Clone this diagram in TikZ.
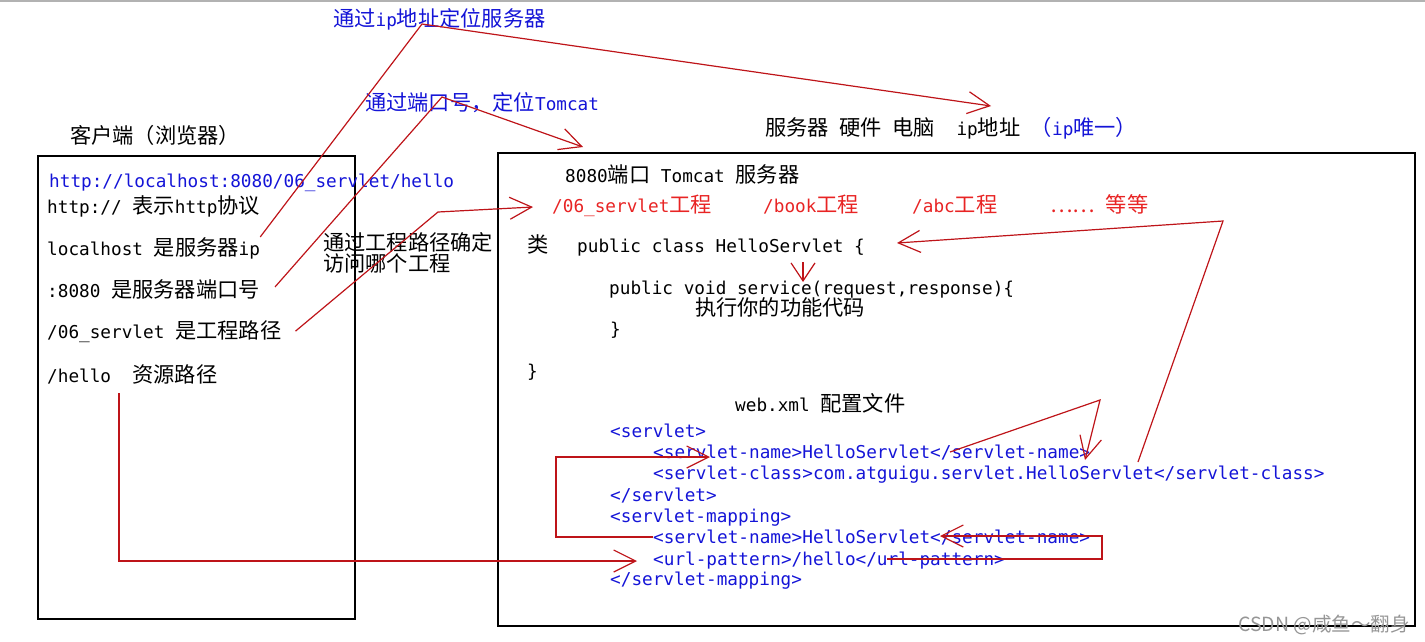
\documentclass[tikz,border=0pt]{standalone}
\usepackage{fontspec}
\usepackage{tikz}
\usetikzlibrary{arrows.meta, positioning, calc}
\setmainfont{DejaVu Sans Mono}
\newfontfamily\cjk[Scale=1.2]{Noto Sans CJK SC}
\newfontfamily\wmfont{Noto Sans CJK SC}
\newcommand{\zh}[1]{{\cjk #1}}
\definecolor{codeblue}{RGB}{20,20,215}
\definecolor{labelred}{RGB}{232,36,36}
\definecolor{linered}{RGB}{190,20,25}
\definecolor{wmgray}{RGB}{150,150,150}

\begin{document}
\begin{tikzpicture}[
    x=1pt, y=-1pt,
    >={Straight Barb[length=22pt, width=22pt]},
    txt/.style={inner sep=0pt, anchor=base west, font=\fontsize{17.7pt}{21pt}\selectfont},
    code/.style={txt, codeblue},
    redtag/.style={txt, labelred},
    boxframe/.style={draw, line width=2pt, inner sep=0pt, anchor=north west},
    link/.style={linered, line width=1.2pt},
]
    \useasboundingbox (0,0) rectangle (1425,641);
    \draw[gray!60, line width=1.5pt] (0,1) -- (1425,1);

    % Notes above the boxes
    \node[txt, codeblue] (ipnote) at (333,26) {\zh{通过}ip\zh{地址定位服务器}};
    \node[txt, codeblue] (portnote) at (365,110) {\zh{通过端口号，定位}Tomcat};
    \node[txt] (clientlbl) at (70,143) {\zh{客户端（浏览器）}};
    \node[txt] (hw) at (765,135) {\zh{服务器}\ \zh{硬件}\ \zh{电脑}\ \ ip\zh{地址} \textcolor{codeblue}{\zh{（}ip\zh{唯一）}}};

    % Client (browser)
    \node[boxframe, minimum width=317pt, minimum height=463pt] (client) at (37,155) {};
    \node[code] (url) at (49,187) {http://localhost:8080/06\_servlet/hello};
    \node[txt] (proto) at (47,213) {http:// \zh{表示}http\zh{协议}};
    \node[txt] (lhost) at (47,255) {localhost \zh{是服务器}ip};
    \node[txt] (port) at (47,297) {:8080 \zh{是服务器端口号}};
    \node[txt] (proj) at (47,338) {/06\_servlet \zh{是工程路径}};
    \node[txt] (res) at (47,382) {/hello\ \ \zh{资源路径}};

    % Project path note
    \node[txt] (prjnote) at (323,250) {\zh{通过工程路径确定}};
    \node[txt] (prjnote2) at (323,271) {\zh{访问哪个工程}};

    % Tomcat server
    \node[boxframe, minimum width=917pt, minimum height=473pt] (server) at (497,152) {};
    \node[txt] (tomcat) at (565,182) {8080\zh{端口} Tomcat \zh{服务器}};
    \node[redtag] (p06) at (552,212) {/06\_servlet\zh{工程}};
    \node[redtag] (pbook) at (763,212) {/book\zh{工程}};
    \node[redtag] (pabc) at (912,212) {/abc\zh{工程}};
    \node[redtag] (petc) at (1050,212) {\zh{……}\ \zh{等等}};

    % Servlet class
    \node[txt] (lei) at (527,252) {\zh{类}};
    \node[txt] (cls) at (577,252) {public class HelloServlet \{};
    \node[txt] (svc) at (609,294) {public void service(request,response)\{};
    \node[txt] (body) at (695,315) {\zh{执行你的功能代码}};
    \node[txt] (svcend) at (610,335) {\}};
    \node[txt] (clsend) at (527,377) {\}};

    % web.xml
    \node[txt] (webxml) at (735,411) {web.xml \zh{配置文件}};
    \node[code] (x1) at (610,437) {<servlet>};
    \node[code] (x2) at (653,458) {<servlet-name>HelloServlet</servlet-name>};
    \node[code] (x3) at (653,479) {<servlet-class>com.atguigu.servlet.HelloServlet</servlet-class>};
    \node[code] (x4) at (610,501) {</servlet>};
    \node[code] (x5) at (610,522) {<servlet-mapping>};
    \node[code] (x6) at (653,543) {<servlet-name>HelloServlet</servlet-name>};
    \node[code] (x7) at (653,565) {<url-pattern>/hello</url-pattern>};
    \node[code] (x8) at (610,585) {</servlet-mapping>};

    \node[txt, wmgray, font=\wmfont\fontsize{19.5pt}{22pt}\selectfont] (wm) at (1238,631) {CSDN @咸鱼～翻身};

    % Bends and tips
    \coordinate (ipbend) at (422,24);
    \coordinate (iptip) at (991,106);
    \coordinate (portbend) at (442,97);
    \coordinate (porttip) at (583,147);
    \coordinate (projbend) at (438,212);
    \coordinate (projtip) at (533,207);
    \coordinate (clsfrom) at (1138,462);
    \coordinate (clsturn) at (1223,221);
    \coordinate (clstip) at (897,243);
    \coordinate (namefrom) at (950,452);
    \coordinate (nameturn) at (1100,400);
    \coordinate (nametip) at (1085,460);
    \coordinate (maptip) at (710,457);
    \coordinate (urlfrom) at (887,559);
    \coordinate (urlturn) at (1102,559);
    \coordinate (urltip2) at (940,536);
    \coordinate (resfrom) at (119,393);
    \coordinate (urltip) at (637,561);
    \coordinate (svcfrom) at (803,262);
    \coordinate (svctip) at (803,282);

    % Red arrows
    \draw[link, ->] (lhost.north east) -- (ipbend) -- (iptip);
    \draw[link, ->] (port.east) ++(15,-2) -- (portbend) -- (porttip);
    \draw[link, ->] (proj.east) ++(14,0) -- (projbend) -- (projtip);
    \draw[link, ->] (clsfrom) -- (clsturn) -- (clstip);
    \draw[link, ->] (namefrom) -- (nameturn) -- (nametip);
    \draw[link, ->] (x6.west) -- ++(-97,0) |- (maptip);
    \draw[link, ->] (urlfrom) -- (urlturn) |- (urltip2);
    \draw[link, ->] (resfrom) |- (urltip);
    \draw[link, -{Straight Barb[length=18pt, width=24pt]}] (svcfrom) -- (svctip);
\end{tikzpicture}
\end{document}
